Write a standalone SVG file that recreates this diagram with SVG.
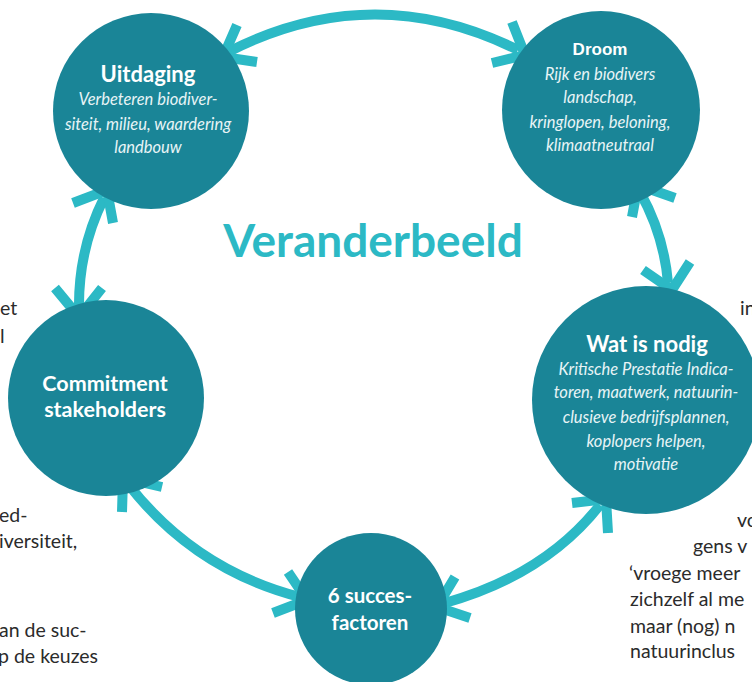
<svg xmlns="http://www.w3.org/2000/svg" width="752" height="682" viewBox="0 0 752 682">
<style>
.node{fill:#1a8597}
.conn path,.conn polyline{fill:none;stroke:#2cb9c5;stroke-width:10}
.conn polyline{stroke-linejoin:miter;stroke-miterlimit:10}
.t{font-family:Lato,"Open Sans",sans-serif;font-weight:bold;fill:#ffffff;text-anchor:middle}
.s{font-family:Lato,"Open Sans",sans-serif;font-style:italic;fill:#e8f4f6;text-anchor:middle;font-size:16.5px}
.bg{font-family:Lato,"Open Sans",sans-serif;fill:#2b2b2b;font-size:19.5px}
</style>
<rect width="752" height="682" fill="#ffffff"/>
<g id="background-text" class="bg">
<text x="0" y="315">et</text>
<text x="0" y="343">l</text>
<text x="-1" y="522">ed-</text>
<text x="-1" y="548">iversiteit,</text>
<text x="-1" y="637">an de suc-</text>
<text x="-2" y="663">p de keuzes</text>
<text x="740" y="315">in</text>
<text x="737" y="527">vo</text>
<text x="693" y="553">gens v</text>
<text x="629" y="580">‘vroege meer</text>
<text x="630" y="606">zichzelf al me</text>
<text x="630" y="633">maar (nog) n</text>
<text x="630" y="658">natuurinclus</text>
</g>
<text id="title" x="373" y="257" font-family="Lato,'Open Sans',sans-serif" font-weight="bold" font-size="46" fill="#2cb9c5" text-anchor="middle">Veranderbeeld</text>
<g id="connectors" class="conn">
<path d="M228,52 Q373,-22 518,50"/>
<polyline points="237,25 223,57 257,62"/>
<polyline points="512,22 525,55 492,63"/>
<path d="M104,198 Q78,250 79,310"/>
<polyline points="73,203 107,190 113,223"/>
<polyline points="55,288 79,317 102,288"/>
<path d="M640,192 Q664,235 668,283"/>
<polyline points="632,217 638,185 675,198"/>
<polyline points="643,270 672,290 690,262"/>
<path d="M128,484 Q195,570 300,597"/>
<polyline points="162,487 123,478 122,512"/>
<polyline points="288,572 307,600 273,613"/>
<path d="M445,603 Q545,575 600,505"/>
<polyline points="455,577 437,607 470,618"/>
<polyline points="572,503 606,499 608,533"/>
</g>
<g id="uitdaging">
<circle class="node" cx="151" cy="111" r="98"/>
<text class="t" x="148" y="82" font-size="22">Uitdaging</text>
<text class="s" x="148" y="105">Verbeteren biodiver-</text>
<text class="s" x="148" y="130">siteit, milieu, waardering</text>
<text class="s" x="148" y="153">landbouw</text>
</g>
<g id="droom">
<circle class="node" cx="601" cy="110" r="99"/>
<text x="600" y="55" font-family="'Liberation Sans',Arial,sans-serif" font-weight="bold" font-size="17" fill="#ffffff" text-anchor="middle">Droom</text>
<text class="s" x="600" y="80">Rijk en biodivers</text>
<text class="s" x="600" y="103">landschap,</text>
<text class="s" x="600" y="128">kringlopen, beloning,</text>
<text class="s" x="600" y="151">klimaatneutraal</text>
</g>
<g id="wat-is-nodig">
<circle class="node" cx="646" cy="400" r="114"/>
<text class="t" x="647" y="352" font-size="22">Wat is nodig</text>
<text class="s" x="646" y="375">Kritische Prestatie Indica-</text>
<text class="s" x="646" y="398">toren, maatwerk, natuurin-</text>
<text class="s" x="646" y="423">clusieve bedrijfsplannen,</text>
<text class="s" x="646" y="447">koplopers helpen,</text>
<text class="s" x="646" y="470">motivatie</text>
</g>
<g id="commitment">
<circle class="node" cx="106" cy="398" r="98"/>
<text class="t" x="105" y="391" font-size="21.5">Commitment</text>
<text class="t" x="105" y="417" font-size="21.5">stakeholders</text>
</g>
<g id="succesfactoren">
<circle class="node" cx="371" cy="609" r="76"/>
<text class="t" x="370" y="603" font-size="20.5">6 succes-</text>
<text class="t" x="370" y="630" font-size="20.5">factoren</text>
</g>
</svg>
